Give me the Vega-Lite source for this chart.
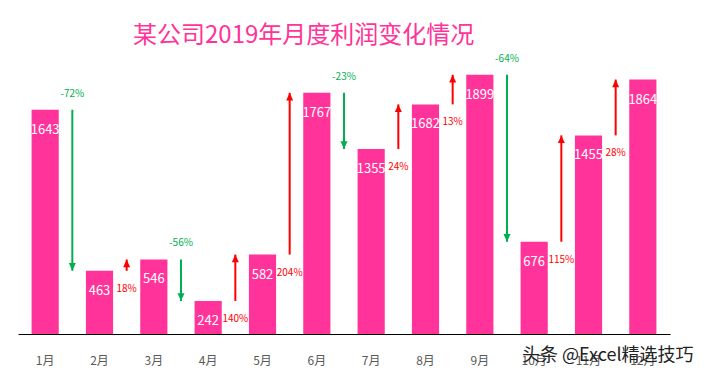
{
  "$schema": "https://vega.github.io/schema/vega-lite/v6.json",
  "width": 652,
  "height": 273,
  "autosize": {"type": "none"},
  "padding": {"left": 18, "top": 61, "right": 35, "bottom": 41},
  "background": "white",
  "title": {
    "text": "某公司2019年月度利润变化情况",
    "anchor": "start",
    "dx": 115,
    "fontSize": 24,
    "font": "Noto Sans CJK SC",
    "fontWeight": "normal",
    "color": "#FF3399",
    "offset": 6
  },
  "config": {"view": {"stroke": null}, "font": "Noto Sans CJK SC"},
  "datasets": {
    "profit": [
      {"月份": "1月", "利润": 1643},
      {"月份": "2月", "利润": 463},
      {"月份": "3月", "利润": 546},
      {"月份": "4月", "利润": 242},
      {"月份": "5月", "利润": 582},
      {"月份": "6月", "利润": 1767},
      {"月份": "7月", "利润": 1355},
      {"月份": "8月", "利润": 1682},
      {"月份": "9月", "利润": 1899},
      {"月份": "10月", "利润": 676},
      {"月份": "11月", "利润": 1455},
      {"月份": "12月", "利润": 1864}
    ],
    "change": [
      {"月份": "1月", "from": 1643, "to": 463, "pct": "-72%", "dir": "down"},
      {"月份": "2月", "from": 463, "to": 546, "pct": "18%", "dir": "up"},
      {"月份": "3月", "from": 546, "to": 242, "pct": "-56%", "dir": "down"},
      {"月份": "4月", "from": 242, "to": 582, "pct": "140%", "dir": "up"},
      {"月份": "5月", "from": 582, "to": 1767, "pct": "204%", "dir": "up"},
      {"月份": "6月", "from": 1767, "to": 1355, "pct": "-23%", "dir": "down"},
      {"月份": "7月", "from": 1355, "to": 1682, "pct": "24%", "dir": "up"},
      {"月份": "8月", "from": 1682, "to": 1899, "pct": "13%", "dir": "up"},
      {"月份": "9月", "from": 1899, "to": 676, "pct": "-64%", "dir": "down"},
      {"月份": "10月", "from": 676, "to": 1455, "pct": "115%", "dir": "up"},
      {"月份": "11月", "from": 1455, "to": 1864, "pct": "28%", "dir": "up"}
    ]
  },
  "layer": [
    {
      "data": {"name": "profit"},
      "mark": {"type": "bar", "color": "#FF3399"},
      "encoding": {
        "x": {
          "field": "月份",
          "type": "ordinal",
          "scale": {
            "domain": ["1月", "2月", "3月", "4月", "5月", "6月", "7月", "8月", "9月", "10月", "11月", "12月"],
            "paddingInner": 0.5,
            "paddingOuter": 0.25
          },
          "axis": {
            "title": "头条 @Excel精选技巧",
            "titleAnchor": "end",
            "titleAlign": "right",
            "titleBaseline": "middle",
            "titleX": 675,
            "titleY": 21,
            "titleFontSize": 18,
            "titleFontWeight": "normal",
            "titleColor": "#222222",
            "labelAngle": 0,
            "labelFontSize": 12,
            "labelColor": "#595959",
            "labelPadding": 21,
            "ticks": false,
            "domainColor": "#000000",
            "domainWidth": 1,
            "grid": false
          }
        },
        "y": {
          "field": "利润",
          "type": "quantitative",
          "scale": {"domain": [0, 2000], "nice": false},
          "axis": null
        }
      }
    },
    {
      "data": {"name": "profit"},
      "mark": {"type": "text", "color": "white", "fontSize": 13, "baseline": "middle", "dy": 20},
      "encoding": {
        "x": {"field": "月份", "type": "ordinal"},
        "y": {"field": "利润", "type": "quantitative"},
        "text": {"field": "利润"}
      }
    },
    {
      "data": {"name": "change"},
      "mark": {"type": "rule", "strokeWidth": 2},
      "encoding": {
        "x": {"field": "月份", "type": "ordinal", "bandPosition": 1.5},
        "y": {"field": "from", "type": "quantitative"},
        "y2": {"field": "to"},
        "color": {
          "field": "dir",
          "type": "nominal",
          "scale": {"domain": ["up", "down"], "range": ["#FF0000", "#00B050"]},
          "legend": null
        }
      }
    },
    {
      "data": {"name": "change"},
      "transform": [{"filter": "datum.dir == 'down'"}],
      "mark": {"type": "point", "filled": true, "opacity": 1, "size": 49, "shape": "M0,0L-1,-2.2L1,-2.2Z"},
      "encoding": {
        "x": {"field": "月份", "type": "ordinal", "bandPosition": 1.5},
        "y": {"field": "to", "type": "quantitative"},
        "color": {"field": "dir", "type": "nominal", "legend": null}
      }
    },
    {
      "data": {"name": "change"},
      "transform": [{"filter": "datum.dir == 'up'"}],
      "mark": {"type": "point", "filled": true, "opacity": 1, "size": 49, "shape": "M0,0L-1,2.2L1,2.2Z"},
      "encoding": {
        "x": {"field": "月份", "type": "ordinal", "bandPosition": 1.5},
        "y": {"field": "to", "type": "quantitative"},
        "color": {"field": "dir", "type": "nominal", "legend": null}
      }
    },
    {
      "data": {"name": "change"},
      "transform": [{"filter": "datum.dir == 'down'"}],
      "mark": {"type": "text", "fontSize": 10, "baseline": "middle", "dy": -16},
      "encoding": {
        "x": {"field": "月份", "type": "ordinal", "bandPosition": 1.5},
        "y": {"field": "from", "type": "quantitative"},
        "text": {"field": "pct"},
        "color": {"field": "dir", "type": "nominal", "legend": null}
      }
    },
    {
      "data": {"name": "change"},
      "transform": [{"filter": "datum.dir == 'up'"}],
      "mark": {"type": "text", "fontSize": 10, "baseline": "middle", "dy": 18},
      "encoding": {
        "x": {"field": "月份", "type": "ordinal", "bandPosition": 1.5},
        "y": {"field": "from", "type": "quantitative"},
        "text": {"field": "pct"},
        "color": {"field": "dir", "type": "nominal", "legend": null}
      }
    }
  ]
}
